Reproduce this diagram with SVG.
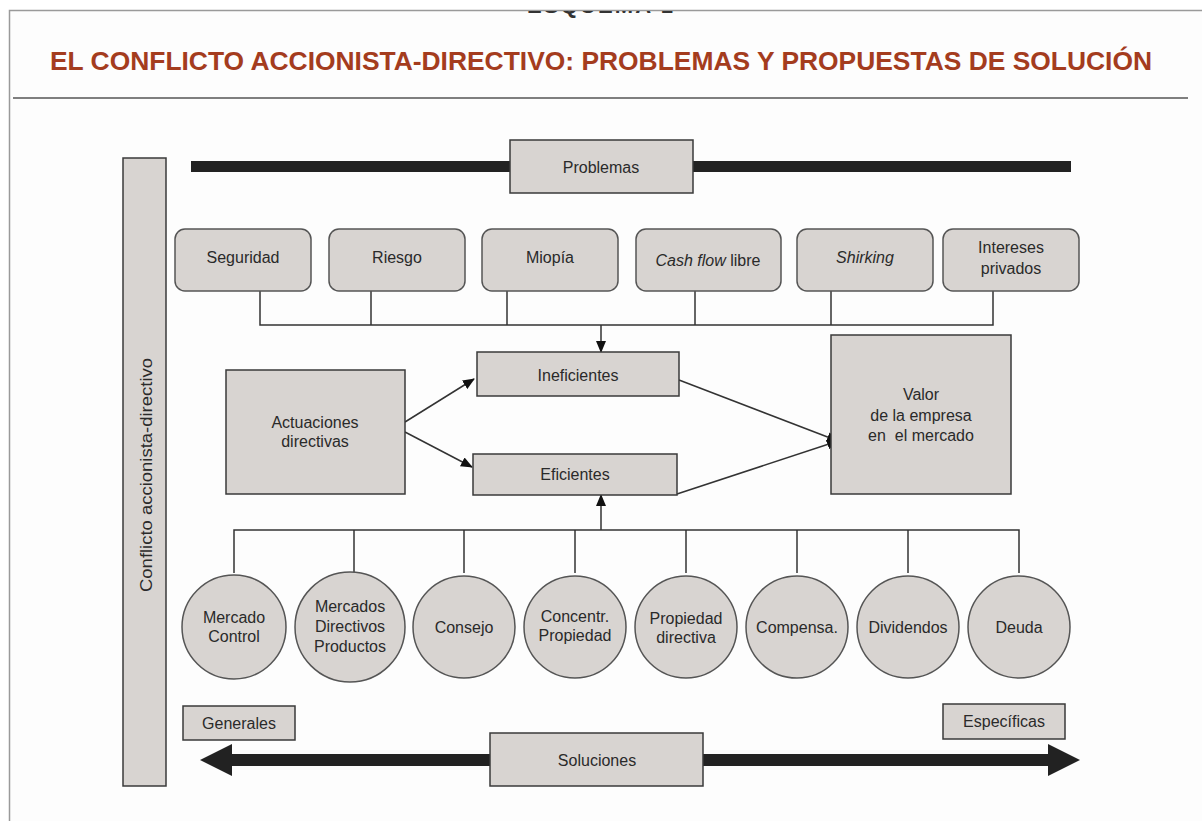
<svg xmlns="http://www.w3.org/2000/svg" width="1202" height="821" viewBox="0 0 1202 821">
<defs>
<style>
.box{fill:#d8d4d1;stroke:#3a3a3a;stroke-width:1.5}
.rbox{fill:#d8d4d1;stroke:#555;stroke-width:1.5}
.t{font-family:"Liberation Sans",Arial,sans-serif;font-size:16px;fill:#2a2a2a;text-anchor:middle}
.conn{fill:none;stroke:#333;stroke-width:1.5}
</style>
<marker id="ah" markerWidth="12" markerHeight="10" refX="11" refY="5" orient="auto" markerUnits="userSpaceOnUse">
<path d="M0,0 L12,5 L0,10 Z" fill="#111"/>
</marker>
<clipPath id="topclip"><rect x="0" y="11" width="1202" height="20"/></clipPath>
</defs>
<rect x="0" y="0" width="1202" height="821" fill="#ffffff"/>
<rect x="9.5" y="10.5" width="1200" height="820" fill="#fdfdfd" stroke="#9a9a9a" stroke-width="1.5"/>
<text x="600" y="13" clip-path="url(#topclip)" style="font-family:'Liberation Sans',Arial,sans-serif;font-size:22px;font-weight:bold;fill:#333;text-anchor:middle" textLength="146" lengthAdjust="spacing">ESQUEMA 1</text>
<text x="601" y="70" style="font-family:'Liberation Sans',Arial,sans-serif;font-size:26px;font-weight:bold;fill:#a43c1e;text-anchor:middle" textLength="1102" lengthAdjust="spacingAndGlyphs">EL CONFLICTO ACCIONISTA-DIRECTIVO: PROBLEMAS Y PROPUESTAS DE SOLUCIÓN</text>
<line x1="13" y1="98" x2="1188" y2="98" stroke="#555" stroke-width="1.5"/>

<g id="conflicto">
<rect class="box" x="123" y="158" width="43" height="628"/>
<text class="t" x="146" y="475" transform="rotate(-90 146 475)" dy="6" style="font-size:17px" textLength="234" lengthAdjust="spacingAndGlyphs">Conflicto accionista-directivo</text>
</g>

<g id="problemas">
<rect x="191" y="161" width="880" height="11" fill="#222"/>
<rect class="box" x="510" y="140" width="183" height="53"/>
<text class="t" x="601" y="173">Problemas</text>
</g>

<g id="connectors">
<polyline class="conn" points="260,291 260,325 993,325 993,291"/>
<line class="conn" x1="371" y1="291" x2="371" y2="325"/>
<line class="conn" x1="507" y1="291" x2="507" y2="325"/>
<line class="conn" x1="695" y1="291" x2="695" y2="325"/>
<line class="conn" x1="831" y1="291" x2="831" y2="325"/>
<line class="conn" x1="601" y1="325" x2="601" y2="352" marker-end="url(#ah)"/>
<line class="conn" x1="405" y1="422" x2="474" y2="379" marker-end="url(#ah)"/>
<line class="conn" x1="405" y1="432" x2="472" y2="467" marker-end="url(#ah)"/>
<line class="conn" x1="679" y1="380" x2="838" y2="441" marker-end="url(#ah)"/>
<line class="conn" x1="677" y1="494" x2="838" y2="441" marker-end="url(#ah)"/>
<polyline class="conn" points="234,573 234,530 1019,530 1019,573"/>
<line class="conn" x1="354" y1="530" x2="354" y2="573"/>
<line class="conn" x1="464" y1="530" x2="464" y2="573"/>
<line class="conn" x1="575" y1="530" x2="575" y2="573"/>
<line class="conn" x1="686" y1="530" x2="686" y2="573"/>
<line class="conn" x1="797" y1="530" x2="797" y2="573"/>
<line class="conn" x1="908" y1="530" x2="908" y2="573"/>
<line class="conn" x1="601" y1="530" x2="601" y2="495" marker-end="url(#ah)"/>
</g>

<g id="seguridad"><rect class="rbox" x="175" y="229" width="136" height="62" rx="10"/><text class="t" x="243" y="263">Seguridad</text></g>
<g id="riesgo"><rect class="rbox" x="329" y="229" width="136" height="62" rx="10"/><text class="t" x="397" y="263">Riesgo</text></g>
<g id="miopia"><rect class="rbox" x="482" y="229" width="136" height="62" rx="10"/><text class="t" x="550" y="263">Miopía</text></g>
<g id="cashflow"><rect class="rbox" x="636" y="229" width="145" height="62" rx="10"/><text class="t" x="708" y="266"><tspan font-style="italic">Cash flow</tspan> libre</text></g>
<g id="shirking"><rect class="rbox" x="797" y="229" width="136" height="62" rx="10"/><text class="t" x="865" y="263" font-style="italic">Shirking</text></g>
<g id="intereses"><rect class="rbox" x="943" y="229" width="136" height="62" rx="10"/><text class="t" x="1011" y="253">Intereses</text><text class="t" x="1011" y="274">privados</text></g>

<g id="ineficientes"><rect class="box" x="477" y="352" width="202" height="44"/><text class="t" x="578" y="381">Ineficientes</text></g>
<g id="eficientes"><rect class="box" x="473" y="454" width="204" height="41"/><text class="t" x="575" y="480">Eficientes</text></g>
<g id="actuaciones"><rect class="box" x="226" y="370" width="179" height="124"/><text class="t" x="315" y="428">Actuaciones</text><text class="t" x="315" y="447">directivas</text></g>
<g id="valor"><rect class="box" x="831" y="335" width="180" height="159"/><text class="t" x="921" y="400">Valor</text><text class="t" x="921" y="421">de la empresa</text><text class="t" x="921" y="441" xml:space="preserve">en  el mercado</text></g>

<g id="mercado-control"><circle class="rbox" cx="234" cy="627" r="52"/><text class="t" x="234" y="623">Mercado</text><text class="t" x="234" y="642">Control</text></g>
<g id="mercados-directivos"><circle class="rbox" cx="350" cy="627" r="55"/><text class="t" x="350" y="612">Mercados</text><text class="t" x="350" y="632">Directivos</text><text class="t" x="350" y="652">Productos</text></g>
<g id="consejo"><circle class="rbox" cx="464" cy="627" r="51"/><text class="t" x="464" y="633">Consejo</text></g>
<g id="concentr"><circle class="rbox" cx="575" cy="627" r="51"/><text class="t" x="575" y="622">Concentr.</text><text class="t" x="575" y="641">Propiedad</text></g>
<g id="propiedad-directiva"><circle class="rbox" cx="686" cy="627" r="51"/><text class="t" x="686" y="624">Propiedad</text><text class="t" x="686" y="643">directiva</text></g>
<g id="compensa"><circle class="rbox" cx="797" cy="627" r="51"/><text class="t" x="797" y="633">Compensa.</text></g>
<g id="dividendos"><circle class="rbox" cx="908" cy="627" r="51"/><text class="t" x="908" y="633">Dividendos</text></g>
<g id="deuda"><circle class="rbox" cx="1019" cy="627" r="51"/><text class="t" x="1019" y="633">Deuda</text></g>

<g id="soluciones">
<polygon points="200,760 232,744 232,754 1048,754 1048,744 1080,760 1048,776 1048,766 232,766 232,776" fill="#222"/>
<rect class="box" x="490" y="733" width="213" height="53"/>
<text class="t" x="597" y="766">Soluciones</text>
</g>
<g id="generales"><rect class="box" x="183" y="706" width="112" height="34"/><text class="t" x="239" y="729">Generales</text></g>
<g id="especificas"><rect class="box" x="943" y="704" width="122" height="35"/><text class="t" x="1004" y="727">Específicas</text></g>
</svg>
